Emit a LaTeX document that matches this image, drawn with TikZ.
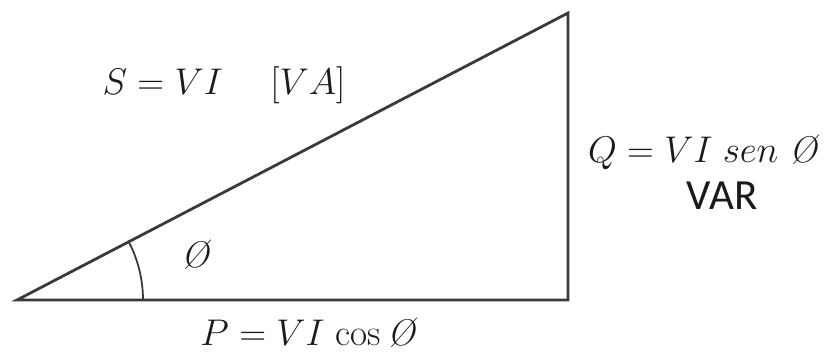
\documentclass[tikz,border=0pt]{standalone}
\usepackage{amsmath}
\usepackage{fontspec}
\newfontfamily\unitfont{Carlito}
\usepackage{tikz}
\usetikzlibrary{positioning,calc}
\definecolor{cLine}{HTML}{3A3A3A}
\definecolor{cText}{HTML}{1A1A1A}
\tikzset{
  side/.style={draw=cLine,line width=1.4pt,line cap=round,line join=miter},
  anglearc/.style={draw=cLine,line width=0.9pt},
  label-eq/.style={text=cText,font=\fontsize{17.28}{21}\selectfont,inner sep=0pt,scale=1.075},
  label-unit/.style={text=cText,font=\unitfont\fontsize{21.5}{25}\selectfont,inner sep=0pt},
}

\begin{document}
\begin{tikzpicture}[x=0.5pt,y=-0.5pt]
  \useasboundingbox (0,0) rectangle (830,352);
  % vertices of the power triangle
  \coordinate (o) at (17,300);
  \coordinate (p) at (568,300);
  \coordinate (q) at (568,13);
  \draw[side] (o) -- (p) -- (q) -- cycle;
  % angle
  \draw[anglearc] ($(o)+(126,0)$) arc[start angle=0,end angle=-27.5,radius=126];
  \node[label-eq] (phi) at (197,255) {\textit{Ø}};
  % labels
  \node[label-eq] (s) at (224,85) {$S = VI\quad\;[VA]$};
  \node[label-eq] (qv) at (704,152) {$Q = VI\;sen$ \textit{Ø}};
  \node[label-unit,below=6pt of qv.south,anchor=north,xshift=9pt] (var) {VAR};
  \node[label-eq] (pv) at (309,333) {$P = VI$ cos\,\textit{Ø}};
\end{tikzpicture}
\end{document}
